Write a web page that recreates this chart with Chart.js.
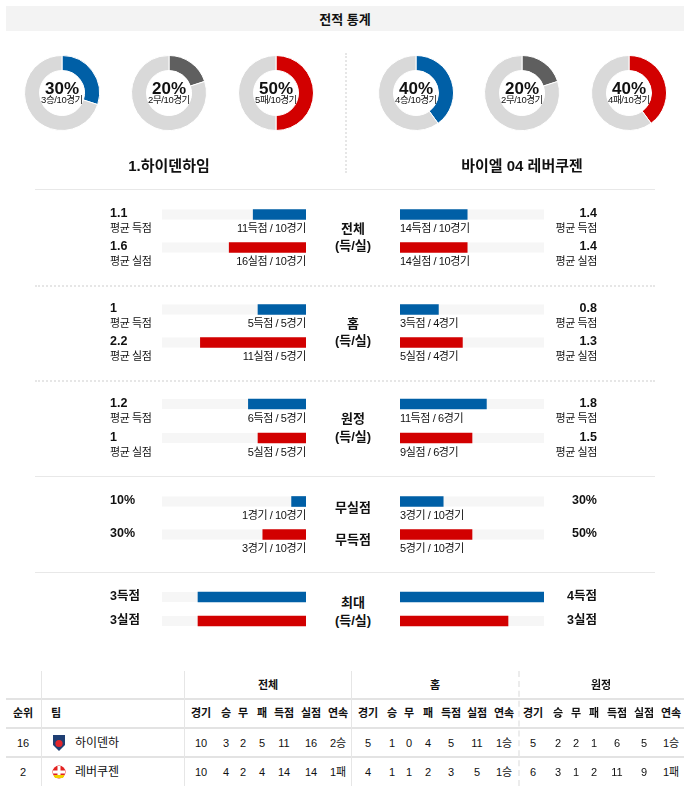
<!DOCTYPE html>
<html lang="ko">
<head>
<meta charset="utf-8">
<title>전적 통계</title>
<script src="https://cdn.jsdelivr.net/npm/chart.js@4.4.1/dist/chart.umd.min.js"></script>
<style>
  html, body { margin: 0; padding: 0; background: #fff; }
  body {
    width: 690px; height: 794px; position: relative; overflow: hidden;
    font-family: "Liberation Sans", Arial, "Noto Sans CJK KR", sans-serif;
    color: #111;
  }
  .t { position: absolute; white-space: nowrap; line-height: 1; }
  .line { position: absolute; }
  canvas { position: absolute; }
</style>
</head>
<body>
<script>
// ---- data ----
const teamNames = ["1.하이덴하임", "바이엘 04 레버쿠젠"];
const recordLabels = ["승", "무", "패"];
const homeRecord = [3, 2, 5];
const awayRecord = [4, 2, 4];
const recordGames = 10;

const sectionNames = ["전체", "홈", "원정"];
const homeGoalsFor = [11, 5, 6];
const homeGoalsAgainst = [16, 11, 5];
const homeGames = [10, 5, 5];
const homeAvgFor = [1.1, 1, 1.2];
const homeAvgAgainst = [1.6, 2.2, 1];
const awayGoalsFor = [14, 3, 11];
const awayGoalsAgainst = [14, 5, 9];
const awayGames = [10, 4, 6];
const awayAvgFor = [1.4, 0.8, 1.8];
const awayAvgAgainst = [1.4, 1.3, 1.5];
const avgMax = 3;

const homeCleanSheets = [1, 3];   // 무실점, 무득점 games
const awayCleanSheets = [3, 5];
const pctValuesHome = [10, 30];
const pctValuesAway = [30, 50];

const homeMaxGoals = [3, 3];      // 최대 득점, 최대 실점
const awayMaxGoals = [4, 3];
const maxGoalsScale = 4;

const tableGroups = ["전체", "홈", "원정"];
const tableCols = ["경기", "승", "무", "패", "득점", "실점", "연속"];
const ranks = [16, 2];
const shortNames = ["하이덴하", "레버쿠젠"];
const heidenheimRows = [
  [10, 3, 2, 5, 11, 16, "2승"],
  [5, 1, 0, 4, 5, 11, "1승"],
  [5, 2, 2, 1, 6, 5, "1승"]
];
const leverkusenRows = [
  [10, 4, 2, 4, 14, 14, "1패"],
  [4, 1, 1, 2, 3, 5, "1승"],
  [6, 3, 1, 2, 11, 9, "1패"]
];

const BLUE = "#005fa6";
const RED = "#d20000";
const DARK = "#5f5f5f";
const RING = "#d9d9d9";
const TRACK = "#f6f6f6";

// ---- helpers ----
function text(x, y, str, size, opt) {
  opt = opt || {};
  const d = document.createElement("div");
  d.className = "t";
  d.textContent = str;
  d.style.fontSize = size + "px";
  d.style.top = y + "px";
  if (opt.bold) d.style.fontWeight = "bold";
  if (opt.color) d.style.color = opt.color;
  if (opt.ls) d.style.letterSpacing = opt.ls + "px";
  if (opt.align === "right") {
    d.style.right = (690 - x) + "px";
    d.style.transform = "translateY(-50%)";
  } else if (opt.align === "center") {
    d.style.left = x + "px";
    d.style.transform = "translate(-50%, -50%)";
  } else {
    d.style.left = x + "px";
    d.style.transform = "translateY(-50%)";
  }
  document.body.appendChild(d);
  return d;
}

function rule(x, y, w, h, css) {
  const d = document.createElement("div");
  d.className = "line";
  d.style.left = x + "px";
  d.style.top = y + "px";
  d.style.width = w + "px";
  d.style.height = h + "px";
  d.style.cssText += css;
  document.body.appendChild(d);
}

function canvasAt(x, y, w, h) {
  const c = document.createElement("canvas");
  c.width = w;
  c.height = h;
  c.style.left = x + "px";
  c.style.top = y + "px";
  c.style.width = w + "px";
  c.style.height = h + "px";
  document.body.appendChild(c);
  return c;
}

// light grey track behind every bar
const trackPlugin = {
  id: "track",
  beforeDatasetsDraw(chart) {
    const { ctx, chartArea } = chart;
    ctx.save();
    ctx.fillStyle = TRACK;
    chart.getDatasetMeta(0).data.forEach((bar) => {
      const p = bar.getProps(["y", "height"], true);
      ctx.fillRect(chartArea.left, p.y - p.height / 2, chartArea.right - chartArea.left, p.height);
    });
    ctx.restore();
  }
};

function makeDonut(cx, cy, value, total, color, label) {
  const size = 76;
  const c = canvasAt(cx - size / 2, cy - size / 2, size, size);
  new Chart(c, {
    type: "doughnut",
    data: {
      labels: [label, ""],
      datasets: [{
        data: [value, total - value],
        backgroundColor: [color, RING],
        borderColor: "#fff",
        borderWidth: 1
      }]
    },
    options: {
      responsive: false,
      animation: false,
      cutout: "60%",
      plugins: { legend: { display: false }, tooltip: { enabled: false } }
    }
  });
  text(cx, cy - 5, Math.round(value / total * 100) + "%", 17, { bold: true, align: "center" });
  text(cx, cy + 7, value + label + "/" + total + "경기", 9.5, { align: "center", ls: -0.4 });
}

function makeBars(x, y, h, values, max, reverse) {
  const c = canvasAt(x, y, 144, h);
  new Chart(c, {
    type: "bar",
    data: {
      labels: ["a", "b"],
      datasets: [{
        data: values,
        backgroundColor: [BLUE, RED],
        borderWidth: 0,
        barThickness: 10
      }]
    },
    options: {
      indexAxis: "y",
      responsive: false,
      animation: false,
      layout: { padding: 0 },
      plugins: { legend: { display: false }, tooltip: { enabled: false } },
      scales: {
        x: { display: false, min: 0, max: max, reverse: reverse },
        y: { display: false }
      }
    },
    plugins: [trackPlugin]
  });
}

// ---- header ----
rule(6, 6, 678, 25, "background:#f3f3f3;");
text(345, 18.5, "전적 통계", 13, { bold: true, align: "center" });

// ---- donuts ----
const homeCenters = [62, 169, 276];
const awayCenters = [416, 522, 629];
const recordColors = [BLUE, DARK, RED];
recordLabels.forEach((lab, i) => {
  makeDonut(homeCenters[i], 93, homeRecord[i], recordGames, recordColors[i], lab);
  makeDonut(awayCenters[i], 93, awayRecord[i], recordGames, recordColors[i], lab);
});
rule(345, 53, 0, 120, "border-left:2px dotted #e6e6e6;");
text(169, 165, teamNames[0], 15, { bold: true, align: "center" });
text(522, 165, teamNames[1], 15, { bold: true, align: "center" });

// ---- bar sections ----
rule(35, 189, 620, 0, "border-top:1px solid #e8e8e8;");

const LX = 110, RX = 597, LB = 162, RB = 400, CX = 353;
const lbl = { size: 11, ls: -0.4 };

function sideTexts(b1, b2, leftVals, rightVals, leftSubs, rightSubs, leftCaps, rightCaps) {
  text(LX, b1 - 1.5, leftVals[0], 12.5, { bold: true });
  text(LX, b2 - 1.5, leftVals[1], 12.5, { bold: true });
  text(RX, b1 - 1.5, rightVals[0], 12.5, { bold: true, align: "right" });
  text(RX, b2 - 1.5, rightVals[1], 12.5, { bold: true, align: "right" });
  if (leftCaps) {
    text(LX, b1 + 13.5, leftCaps[0], lbl.size, { ls: lbl.ls });
    text(LX, b2 + 13.5, leftCaps[1], lbl.size, { ls: lbl.ls });
    text(RX, b1 + 13.5, rightCaps[0], lbl.size, { ls: lbl.ls, align: "right" });
    text(RX, b2 + 13.5, rightCaps[1], lbl.size, { ls: lbl.ls, align: "right" });
  }
  if (leftSubs) {
    text(LB + 144, b1 + 13.5, leftSubs[0], lbl.size, { ls: lbl.ls, align: "right" });
    text(LB + 144, b2 + 13.5, leftSubs[1], lbl.size, { ls: lbl.ls, align: "right" });
    text(RB, b1 + 13.5, rightSubs[0], lbl.size, { ls: lbl.ls });
    text(RB, b2 + 13.5, rightSubs[1], lbl.size, { ls: lbl.ls });
  }
}

const avgBarCenters = [[214, 247], [309, 342], [404, 438]];
sectionNames.forEach((name, i) => {
  const [b1, b2] = avgBarCenters[i];
  const top = b1 - (b2 - b1) / 2;
  const h = (b2 - b1) * 2;
  makeBars(LB, top, h, [homeAvgFor[i], homeAvgAgainst[i]], avgMax, true);
  makeBars(RB, top, h, [awayAvgFor[i], awayAvgAgainst[i]], avgMax, false);
  sideTexts(b1, b2,
    [String(homeAvgFor[i]), String(homeAvgAgainst[i])],
    [String(awayAvgFor[i]), String(awayAvgAgainst[i])],
    [homeGoalsFor[i] + "득점 / " + homeGames[i] + "경기", homeGoalsAgainst[i] + "실점 / " + homeGames[i] + "경기"],
    [awayGoalsFor[i] + "득점 / " + awayGames[i] + "경기", awayGoalsAgainst[i] + "실점 / " + awayGames[i] + "경기"],
    ["평균 득점", "평균 실점"], ["평균 득점", "평균 실점"]);
  text(CX, b1 + 14, name, 13, { bold: true, align: "center" });
  text(CX, b2 - 2, "(득/실)", 13, { bold: true, align: "center" });
});
rule(35, 285, 620, 0, "border-top:2px dotted #e6e6e6;");
rule(35, 380, 620, 0, "border-top:2px dotted #e6e6e6;");
rule(35, 476, 620, 0, "border-top:1px solid #e8e8e8;");

// 무실점 / 무득점
makeBars(LB, 484.5, 66, pctValuesHome, 100, true);
makeBars(RB, 484.5, 66, pctValuesAway, 100, false);
sideTexts(501, 534,
  pctValuesHome.map((v) => v + "%"), pctValuesAway.map((v) => v + "%"),
  homeCleanSheets.map((v) => v + "경기 / " + recordGames + "경기"),
  awayCleanSheets.map((v) => v + "경기 / " + recordGames + "경기"));
text(CX, 507, "무실점", 13, { bold: true, align: "center" });
text(CX, 539, "무득점", 13, { bold: true, align: "center" });
rule(35, 572, 620, 0, "border-top:1px solid #e8e8e8;");

// 최대 득/실
makeBars(LB, 585, 48, homeMaxGoals, maxGoalsScale, true);
makeBars(RB, 585, 48, awayMaxGoals, maxGoalsScale, false);
sideTexts(597, 621,
  [homeMaxGoals[0] + "득점", homeMaxGoals[1] + "실점"],
  [awayMaxGoals[0] + "득점", awayMaxGoals[1] + "실점"]);
text(CX, 602, "최대", 13, { bold: true, align: "center" });
text(CX, 620, "(득/실)", 13, { bold: true, align: "center" });

// ---- standings table ----
const groupCenters = [268, 435, 601];
const colCenters = [
  [201, 226, 243, 262, 284, 311, 338],
  [368, 392, 409, 428, 451, 477, 504],
  [533, 558, 576, 594, 617, 644, 671]
];
rule(6, 698, 678, 2, "background:#e3e3e3;");
rule(6, 727, 678, 2, "background:#e3e3e3;");
rule(6, 756, 678, 2, "background:#e3e3e3;");
rule(41, 671, 1, 115, "background:#e6e6e6;");
rule(184, 671, 1, 115, "background:#e6e6e6;");
rule(351, 671, 1, 115, "background:#e6e6e6;");
rule(518, 671, 0, 115, "border-left:2px dashed #ececec;");

tableGroups.forEach((g, i) => text(groupCenters[i], 685, g, 11, { bold: true, align: "center" }));
text(23, 713, "순위", 11, { bold: true, align: "center" });
text(51, 713, "팀", 11, { bold: true });
colCenters.forEach((cols) => cols.forEach((cx, j) => text(cx, 713, tableCols[j], 11, { bold: true, align: "center" })));

const rowY = [743, 772];
[heidenheimRows, leverkusenRows].forEach((rows, r) => {
  text(23, rowY[r], String(ranks[r]), 11, { align: "center" });
  text(75, rowY[r], shortNames[r], 12);
  rows.forEach((vals, g) => vals.forEach((v, j) => text(colCenters[g][j], rowY[r], String(v), 11, { align: "center" })));
});

// small club crests
const crest1 = document.createElement("div");
crest1.innerHTML = '<svg width="12" height="16" viewBox="0 0 12 16"><path d="M0 0H12V10L6 16L0 10Z" fill="#1f3f73"/><circle cx="6" cy="8.5" r="3.6" fill="#e2262b"/></svg>';
crest1.style.cssText = "position:absolute;left:53px;top:735px;line-height:0;";
document.body.appendChild(crest1);
const crest2 = document.createElement("div");
crest2.innerHTML = '<svg width="14" height="14" viewBox="0 0 14 14"><circle cx="7" cy="7" r="6.5" fill="#e32221"/><rect x="5.5" y="1" width="3" height="12" fill="#fff"/><rect x="1" y="5.5" width="12" height="3" fill="#fff"/><path d="M1.5 10H12.5L11 13H3Z" fill="#f2d100"/></svg>';
crest2.style.cssText = "position:absolute;left:52px;top:765px;line-height:0;";
document.body.appendChild(crest2);
</script>
</body>
